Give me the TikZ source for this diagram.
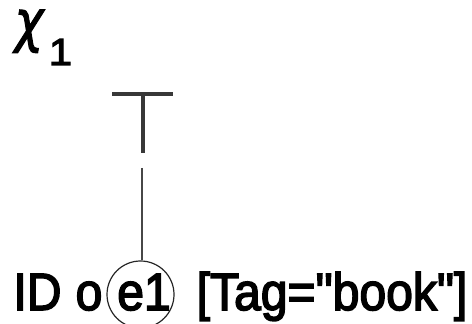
\RequirePackage{fix-cm}
\documentclass[tikz,border=0pt]{standalone}
\usepackage{graphicx}
\usepackage{fontspec}
\setmainfont{Liberation Sans}
\newfontfamily\boldish{Liberation Sans}[FakeBold=3]
\newfontfamily\chifont{DejaVu Sans}[FakeBold=2]
\newcommand{\sxq}[1]{\scalebox{0.916}[1]{\boldish #1}}
\begin{document}
\begin{tikzpicture}[x=1pt,y=1pt,
  lab/.style={inner sep=0pt,outer sep=0pt,font=\fontsize{52.5}{52.5}\selectfont,anchor=base},
  circ/.style={draw=black!85,circle,minimum size=67pt,inner sep=0pt,line width=1.2pt},
  tbar/.style={draw=black!78,line width=3.2pt},
  conn/.style={draw=black!72,line width=1.4pt}]
\useasboundingbox (0,0) rectangle (472,324);
% chi_1
\node[lab,font=\fontsize{57}{57}\selectfont,text height=32pt] (chi) at (29,283) {\scalebox{0.85}[1]{\chifont\itshape χ}};
\node[lab,font=\fontsize{37.7}{37.7}\selectfont] (sub) at (60.5,259) {\scalebox{1.1}[1]{\boldish 1}};
% top symbol
\coordinate (tl) at (112,230);
\coordinate (tr) at (173,230);
\coordinate (tm) at (143,230);
\coordinate (tb) at (143,171);
\draw[tbar] (tl) -- (tr);
\draw[tbar] (tm) -- (tb);
\coordinate (lt) at (142,156);
% bottom text
\node[lab] (id) at (37.5,14) {\sxq{ID}};
\node[lab] (o) at (89,14) {\sxq{o}};
\node[circ] (e1) at (140.5,29.5) {};
\node[lab] (e1t) at (144,14) {\sxq{e1}};
\node[lab] (tag) at (332,14) {\sxq{[Tag=\textquotedbl book\textquotedbl]}};
\draw[conn] (lt) -- (lt |- e1.north);
\end{tikzpicture}
\end{document}
